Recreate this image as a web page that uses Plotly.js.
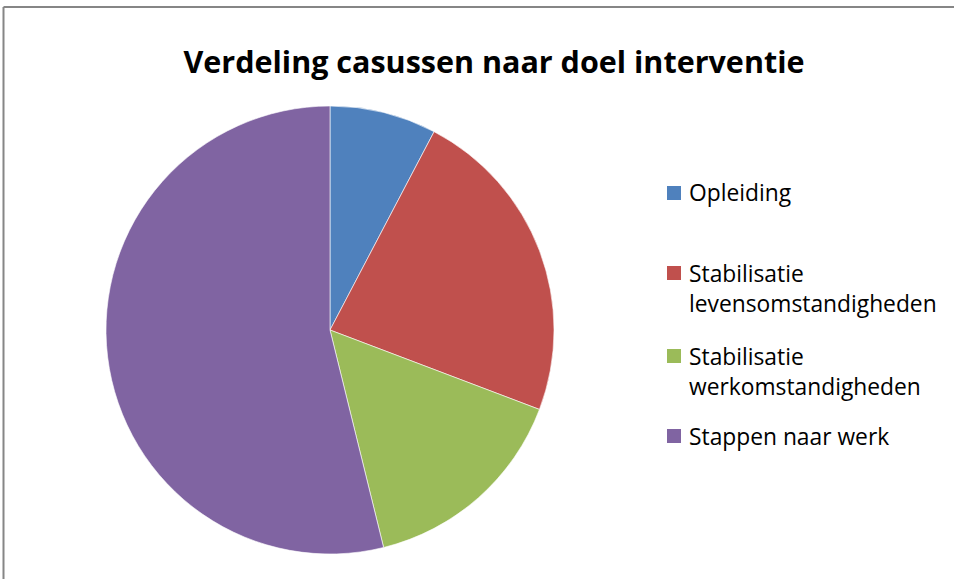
<!DOCTYPE html>
<html>
<head>
<meta charset="utf-8">
<script src="https://cdn.plot.ly/plotly-3.0.1.min.js"></script>
<style>html,body{margin:0;padding:0;background:#fff;}#chart{width:954px;height:579px;}</style>
</head>
<body>
<div id="chart"></div>
<script>
const labels = ["Opleiding", "Stabilisatie levensomstandigheden", "Stabilisatie werkomstandigheden", "Stappen naar werk"];
const legendText = ["Opleiding", "Stabilisatie<br>levensomstandigheden", "Stabilisatie<br>werkomstandigheden", "Stappen naar werk"];
const values = [1, 3, 2, 7];
const colors = ["#4F81BD", "#C0504D", "#9BBB59", "#8064A2"];
const titleText = "Verdeling casussen naar doel interventie";

const W = 954, H = 579;
const FONT = "'Open Sans', Lato, sans-serif";
const px = x => x / W;
const py = y => 1 - y / H;

const shapes = [
  {type: "line", xref: "paper", yref: "paper", x0: px(3.5), x1: px(3.5), y0: py(579), y1: py(7), line: {color: "#868686", width: 2}},
  {type: "line", xref: "paper", yref: "paper", x0: px(3.5), x1: px(954), y0: py(7), y1: py(7), line: {color: "#868686", width: 2}}
];
const annotations = [];
const rowY = [193, 273, 356, 436];
labels.forEach((l, i) => {
  shapes.push({type: "rect", xref: "paper", yref: "paper", x0: px(667), x1: px(681), y0: py(rowY[i] + 7), y1: py(rowY[i] - 7), fillcolor: colors[i], line: {width: 0}});
  annotations.push({xref: "paper", yref: "paper", x: px(687), y: py(rowY[i] - 17.5), xanchor: "left", yanchor: "top", align: "left", showarrow: false, text: legendText[i], font: {family: FONT, size: 22.8, color: "#000"}});
});

Plotly.newPlot("chart", [{
  type: "pie",
  labels: labels,
  values: values,
  marker: {colors: colors, line: {color: "#ffffff", width: 0.6}},
  sort: false,
  direction: "clockwise",
  rotation: 0,
  textinfo: "none",
  hoverinfo: "label+value+percent",
  domain: {x: [106 / W, 554 / W], y: [1 - 554 / H, 1 - 106 / H]},
  showlegend: false
}], {
  width: W, height: H,
  margin: {l: 0, r: 0, t: 0, b: 0},
  paper_bgcolor: "#fff",
  title: {text: "<b>" + titleText + "</b>", font: {family: FONT, size: 30.5, color: "#000"}, x: 494 / W, xanchor: "center", y: py(62), yanchor: "middle", xref: "paper", yref: "paper"},
  shapes: shapes,
  annotations: annotations,
  showlegend: false
}, {displayModeBar: false, staticPlot: true});
</script>
</body>
</html>
